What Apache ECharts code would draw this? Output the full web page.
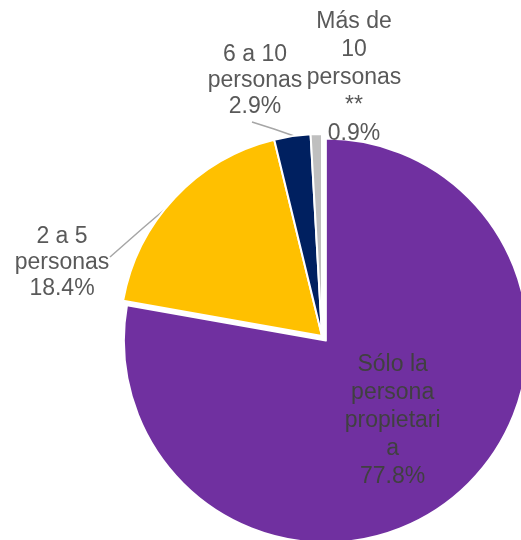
<!DOCTYPE html>
<html>
<head>
<meta charset="utf-8">
<script src="https://cdn.jsdelivr.net/npm/echarts@6/dist/echarts.min.js"></script>
<style>
html, body { margin: 0; padding: 0; background: #fff; }
#pie1 { width: 521px; height: 540px; }
</style>
</head>
<body>
<div id="pie1"></div>
<script>
// datos
var categories = ['Sólo la persona propietaria', '2 a 5 personas', '6 a 10 personas', 'Más de 10 personas **'];
var values = [77.8, 18.4, 2.9, 0.9];
var labelTexts = ['Sólo la\npersona\npropietari\na', '2 a 5\npersonas', '6 a 10\npersonas', 'Más de\n10\npersonas\n**'];
var colors = ['#7030A0', '#FFC000', '#002060', '#BFBFBF'];

// posiciones de las etiquetas (centro del bloque de texto)
var labelPos = [[390, 420], [62, 263], [255, 81], [354, 78]];
var leaderLines = [null, [[110, 257], [143, 228], [177, 199]], [[252, 122], [274, 129], [297, 137]], null];
var lineHeights = [28, 26, 26, 28];

var pie1 = echarts.init(document.getElementById('pie1'), null, { renderer: 'canvas' });

var seriesData = categories.map(function (name, i) {
    return {
        name: name,
        value: values[i],
        selected: i === 0,
        itemStyle: { color: colors[i] },
        label: {
            position: i === 0 ? 'inside' : 'outside',
            color: i === 0 ? '#404040' : '#595959',
            lineHeight: lineHeights[i]
        },
        labelLine: { show: leaderLines[i] !== null }
    };
});

var option = {
    animation: false,
    series: [{
        type: 'pie',
        center: [322, 336],
        radius: 202,
        startAngle: 90,
        clockwise: true,
        selectedMode: 'single',
        selectedOffset: 6,
        avoidLabelOverlap: false,
        itemStyle: {
            borderColor: '#ffffff',
            borderWidth: 2
        },
        select: {
            itemStyle: { borderColor: '#ffffff', borderWidth: 2 }
        },
        emphasis: { disabled: true },
        label: {
            show: true,
            fontFamily: 'Liberation Sans, Arial, sans-serif',
            fontSize: 23,
            align: 'center',
            formatter: function (p) {
                return labelTexts[p.dataIndex] + '\n' + p.value.toFixed(1) + '%';
            }
        },
        labelLine: {
            lineStyle: { color: '#A6A6A6', width: 1.5 }
        },
        labelLayout: function (params) {
            var i = params.dataIndex;
            var out = {
                x: labelPos[i][0],
                y: labelPos[i][1],
                align: 'center',
                verticalAlign: 'middle'
            };
            if (leaderLines[i]) {
                out.labelLinePoints = leaderLines[i];
            }
            return out;
        },
        data: seriesData
    }]
};

pie1.setOption(option);

window.onresize = function () {
    pie1.resize();
};
</script>
</body>
</html>
